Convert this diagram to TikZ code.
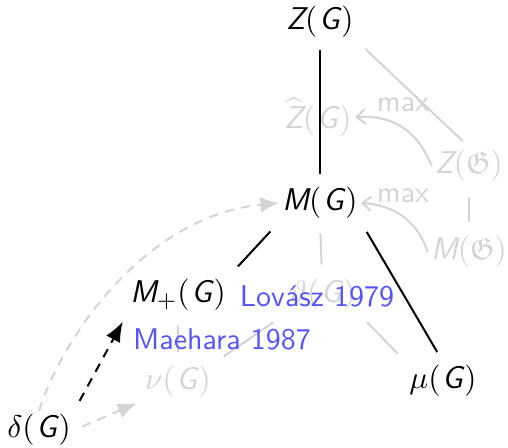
\documentclass[tikz,border=0pt]{standalone}
\usepackage{amsmath,amssymb}
\usetikzlibrary{arrows.meta}
\newcommand{\si}[1]{\text{\sffamily\itshape #1}}
\definecolor{lightg}{gray}{0.83}
\definecolor{lbl}{RGB}{85,85,255}
\tikzset{
  every node/.style={inner sep=1pt, font=\fontsize{11}{13}\selectfont},
  gnode/.style={text=lightg},
  blk/.style={draw=black, line width=0.7pt},
  gl/.style={draw=lightg, line width=0.7pt},
  lblnode/.style={text=lbl, font=\fontsize{10.5}{12}\selectfont\sffamily},
  maxarrow/.style={draw=lightg, line width=0.7pt, -{Straight Barb[length=3pt,width=5pt]}},
  maxlbl/.style={text=lightg, font=\fontsize{10.5}{12}\selectfont\sffamily},
  dsh/.style={line width=0.7pt, dash pattern=on 3.2pt off 2.6pt},
}
\begin{document}
\begin{tikzpicture}[x=0.35pt,y=-0.35pt]
\useasboundingbox (0,0) rectangle (508,447);
% gray nodes
\node[gnode] (Zh) at (318,117) {$\widehat{\si{Z}}(\mkern1mu\si{G}\mkern1mu)$};
\node[gnode] (Zf) at (469,166) {$\si{Z}(\mathfrak{G})$};
\node[gnode] (Mf) at (469,252) {$\si{M}(\mathfrak{G})$};
\node[gnode] (th) at (322,295) {$\vartheta(\mkern1mu\si{G}\mkern1mu)$};
\node[gnode] (nu) at (178,382) {$\nu(\mkern1mu\si{G}\mkern1mu)$};
% black nodes
\node (ZG) at (320,22) {$\si{Z}(\mkern1mu\si{G}\mkern1mu)$};
\node (MG) at (320,203) {$\si{M}(\mkern1mu\si{G}\mkern1mu)$};
\node (Mp) at (178,295) {$\si{M}_{+}(\mkern1mu\si{G}\mkern1mu)$};
\node (mu) at (443,381) {$\mu(\mkern1mu\si{G}\mkern1mu)$};
\node (dG) at (39,430) {$\delta(\mkern1mu\si{G}\mkern1mu)$};
% gray edges
\draw[gl, shorten <=4pt, shorten >=3pt] (ZG.south east) -- (Zf.north);
\draw[gl, shorten <=4pt, shorten >=4pt] (Zf) -- (Mf);
\draw[gl, shorten <=4pt, shorten >=4pt] (MG.south) -- (th.north);
\draw[gl, shorten <=4pt, shorten >=4pt] (th.south east) -- (mu.north west);
\draw[gl, shorten <=5pt, shorten >=4pt] (th.south west) -- (nu.north east);
\draw[gl, shorten <=4pt, shorten >=4pt] (Mp.south) -- (nu.north);
% max arrows
\draw[maxarrow] (Zf.west) .. controls (418,132) and (395,115) .. (Zh.east);
\draw[maxarrow] (Mf.west) .. controls (418,222) and (395,205) .. (MG.east);
\node[maxlbl] (max1) at (403,105) {max};
\node[maxlbl] (max2) at (403,196) {max};
% black edges
\draw[blk, shorten <=3pt, shorten >=3.5pt] (ZG.south) -- (MG.north);
\draw[blk, shorten <=4.5pt, shorten >=4.5pt] (MG.south west) -- (Mp.north east);
\draw[blk, shorten <=4pt, shorten >=4pt] (MG.south east) -- (mu.north);
% dashed arrows
\draw[dsh, lightg, -{Latex[length=6.5pt,width=5.5pt]}] (dG.north) .. controls (65,330) and (150,215) .. (MG.west);
\draw[dsh, lightg, -{Latex[length=6.5pt,width=5.5pt]}, shorten <=3pt, shorten >=2pt] (dG.east) -- (nu.south west);
\draw[dsh, black, -{Latex[length=7pt,width=5.5pt]}, shorten <=4pt, shorten >=3pt] (dG.north east) -- (Mp.south west);
% labels
\node[lblnode] (lov) at (317,296) {Lovász 1979};
\node[lblnode] (mae) at (222,339) {Maehara 1987};
\end{tikzpicture}
\end{document}
